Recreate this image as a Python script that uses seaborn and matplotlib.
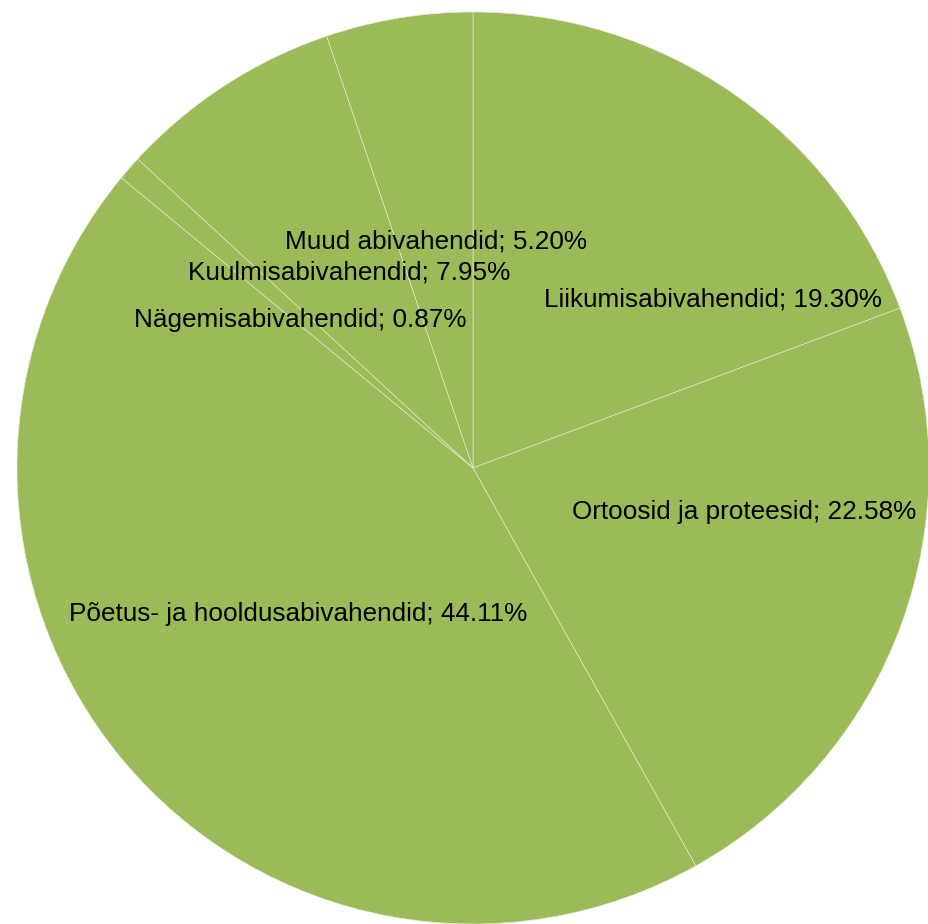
import matplotlib
matplotlib.use("Agg")
import matplotlib.pyplot as plt
import seaborn as sns

# slice order, clockwise from 12 o'clock
categories = [
    "Liikumisabivahendid",
    "Ortoosid ja proteesid",
    "Põetus- ja hooldusabivahendid",
    "Nägemisabivahendid",
    "Kuulmisabivahendid",
    "Muud abivahendid",
]
shares = [19.30, 22.58, 44.11, 0.87, 7.95, 5.20]

# label centres in image pixels (Excel "best fit" placement)
label_px = [(713, 300), (744, 512), (298, 614), (300, 320), (349, 273), (436, 242)]

W, H = 929, 924
CX, CY, R = 473, 468, 456

sns.set_theme(style="white")
plt.rcParams["font.family"] = ["Liberation Sans", "DejaVu Sans"]

fig = plt.figure(figsize=(W / 100, H / 100), dpi=100)
ax = fig.add_axes([0, 0, 1, 1])

green = "#9BBB59"
ax.pie(
    shares,
    colors=[green] * len(shares),
    startangle=90,
    counterclock=False,
    radius=1,
    wedgeprops=dict(edgecolor="#E8EFD8", linewidth=0.4),
)

for cat, val, (px, py) in zip(categories, shares, label_px):
    ax.text((px - CX) / R, (CY - py) / R, f"{cat}; {val:.2f}%",
            ha="center", va="center", fontsize=18.8, color="black")

ax.set_xlim(-CX / R, (W - CX) / R)
ax.set_ylim(-(H - CY) / R, CY / R)
ax.set_aspect("auto")
ax.axis("off")

fig.savefig("out.png", dpi=100, facecolor="white")
